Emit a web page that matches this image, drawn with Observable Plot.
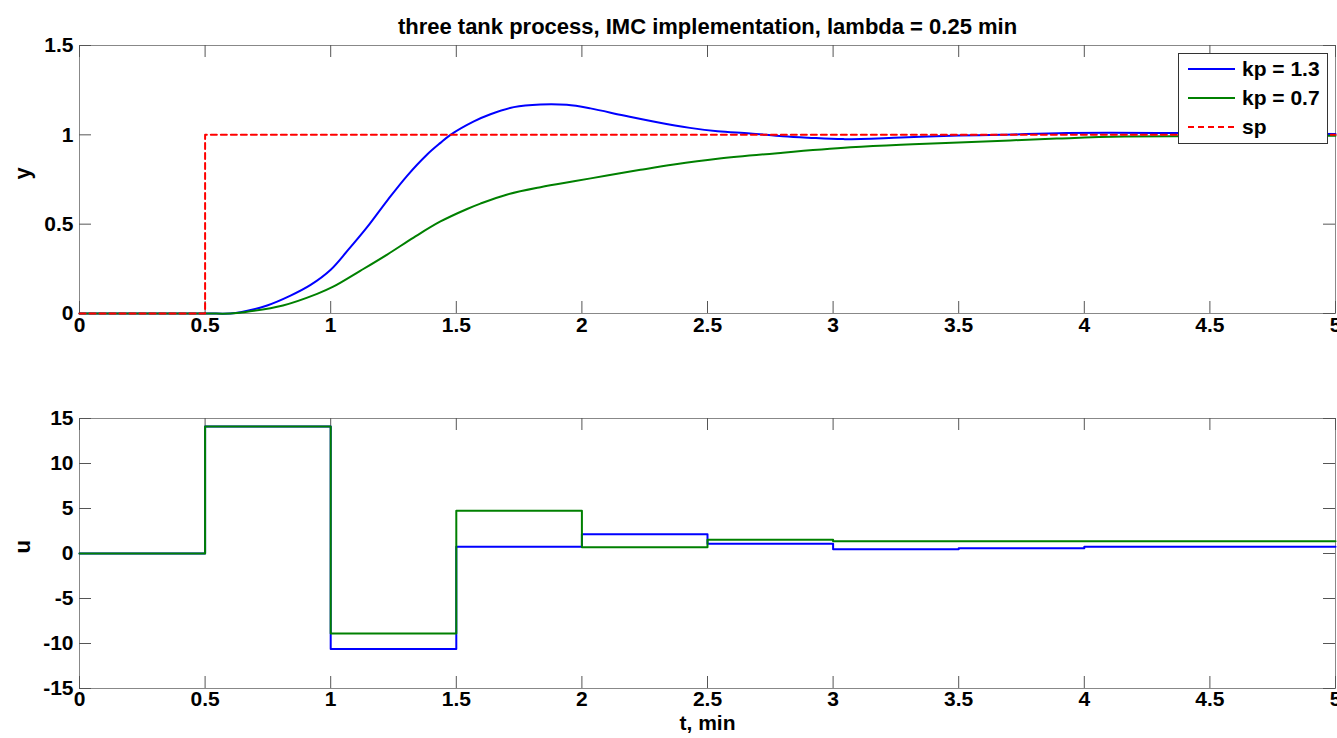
<!DOCTYPE html>
<html><head><meta charset="utf-8">
<script src="https://cdn.jsdelivr.net/npm/d3@7"></script>
<script src="https://cdn.jsdelivr.net/npm/@observablehq/plot@0.6"></script>
<style>
html,body{margin:0;padding:0;background:#fff;overflow:hidden;}
#wrap{position:relative;width:1337px;height:738px;overflow:hidden;}
#wrap > svg{display:block;overflow:hidden;}
#legend{position:absolute;left:1178px;top:53px;width:148px;height:89px;border:1px solid #333;background:#fff;}
</style></head><body><div id="wrap"></div>
<script>
const title = "three tank process, IMC implementation, lambda = 0.25 min";
const xLabel = "t, min";
const yLabelTop = "y";
const yLabelBottom = "u";
const xTicks = [0, 0.5, 1, 1.5, 2, 2.5, 3, 3.5, 4, 4.5, 5];
const yTicksTop = [0, 0.5, 1, 1.5];
const yTicksBottom = [-15, -10, -5, 0, 5, 10, 15];
const seriesNames = ["kp = 1.3", "kp = 0.7", "sp"];
const seriesColors = ["#0000ff", "#008000", "#ff0000"];

// y response, kp = 1.3
const tBlue = [0, 0.5, 0.6, 0.641, 0.747, 0.84, 0.92, 1.0, 1.066, 1.145, 1.225, 1.305, 1.384, 1.437, 1.477, 1.57, 1.636, 1.729, 1.835, 1.94, 2.034, 2.167, 2.30, 2.43, 2.54, 2.67, 2.80, 2.9, 3.04, 3.27, 3.5, 3.67, 3.93, 4.4, 5.0];
const yBlue = [0, 0, 0, 0.007, 0.045, 0.10, 0.16, 0.245, 0.35, 0.483, 0.632, 0.772, 0.89, 0.955, 1.0, 1.075, 1.115, 1.155, 1.17, 1.168, 1.148, 1.108, 1.07, 1.039, 1.02, 1.008, 0.992, 0.984, 0.976, 0.985, 0.996, 1.0, 1.01, 1.01, 1.005];
// y response, kp = 0.7
const tGreen = [0, 0.5, 0.6, 0.655, 0.81, 0.946, 1.01, 1.119, 1.225, 1.33, 1.437, 1.543, 1.596, 1.70, 1.835, 1.968, 2.10, 2.233, 2.366, 2.54, 2.80, 3.07, 3.27, 3.5, 3.89, 4.16, 5.0];
const yGreen = [0, 0, 0, 0.007, 0.045, 0.11, 0.15, 0.24, 0.33, 0.425, 0.515, 0.585, 0.615, 0.665, 0.707, 0.74, 0.772, 0.804, 0.834, 0.866, 0.90, 0.93, 0.945, 0.957, 0.979, 0.99, 0.995];
// setpoint
const tSp = [0, 0.5, 5];
const ySp = [0, 1, 1];
// controller output (zero-order hold)
const tU = [0, 0.5, 1, 1.5, 2, 2.5, 3, 3.5, 4, 4.5, 5];
const uBlue = [0, 14.1, -10.6, 0.75, 2.15, 1.07, 0.48, 0.59, 0.74, 0.74, 0.74];
const uGreen = [0, 14.1, -8.9, 4.75, 0.7, 1.52, 1.37, 1.37, 1.37, 1.37, 1.37];

const font = "'Liberation Sans', Arial, Helvetica, sans-serif";
const W = 1337;
const frameColor = "#888";
const tickColor = "#555";

function zip(t, v) { return t.map((x, i) => ({t: x, v: v[i]})); }

function ticksMarks(xDom, yDom, yT, plotW, plotH) {
  const Lx = (xDom[1] - xDom[0]) * 12 / plotW;
  const Ly = (yDom[1] - yDom[0]) * 12 / plotH;
  return [
    Plot.ruleX(xTicks, {x: d => d, y1: yDom[0], y2: yDom[0] + Ly, stroke: tickColor}),
    Plot.ruleX(xTicks, {x: d => d, y1: yDom[1], y2: yDom[1] - Ly, stroke: tickColor}),
    Plot.ruleY(yT, {y: d => d, x1: xDom[0], x2: xDom[0] + Lx, stroke: tickColor}),
    Plot.ruleY(yT, {y: d => d, x1: xDom[1], x2: xDom[1] - Lx, stroke: tickColor})
  ];
}

const style = {fontFamily: font, fontSize: "21px", fontWeight: "bold", color: "black", background: "white", overflow: "hidden"};

const topPlot = Plot.plot({
  width: W, height: 365,
  marginLeft: 79, marginRight: 2, marginTop: 45, marginBottom: 52,
  style,
  x: {domain: [0, 5]},
  y: {domain: [0, 1.5]},
  marks: [
    Plot.frame({stroke: frameColor}),
    ...ticksMarks([0, 5], [0, 1.5], yTicksTop, 1256, 268),
    Plot.axisX({ticks: xTicks, tickSize: 0, tickPadding: 4, tickFormat: d => String(d), label: null, fontSize: 21}),
    Plot.axisY({ticks: yTicksTop, tickSize: 0, tickPadding: 6, tickFormat: d => String(d), label: null, fontSize: 21}),
    Plot.line(zip(tBlue, yBlue), {x: "t", y: "v", stroke: seriesColors[0], strokeWidth: 2, curve: "catmull-rom"}),
    Plot.line(zip(tGreen, yGreen), {x: "t", y: "v", stroke: seriesColors[1], strokeWidth: 2, curve: "catmull-rom"}),
    Plot.line(zip(tSp, ySp), {x: "t", y: "v", stroke: seriesColors[2], strokeWidth: 2, strokeDasharray: "6,4", curve: "step-after"}),
    Plot.text([title], {frameAnchor: "top", dy: -27, fontSize: 22, fontWeight: "bold"}),
    Plot.text([yLabelTop], {frameAnchor: "left", dx: -57, rotate: -90, fontSize: 22, fontWeight: "bold"})
  ]
});

const bottomPlot = Plot.plot({
  width: W, height: 373,
  marginLeft: 79, marginRight: 2, marginTop: 53, marginBottom: 50,
  style,
  x: {domain: [0, 5]},
  y: {domain: [-15, 15]},
  marks: [
    Plot.frame({stroke: frameColor}),
    ...ticksMarks([0, 5], [-15, 15], yTicksBottom, 1256, 270),
    Plot.axisX({ticks: xTicks, tickSize: 0, tickPadding: 3, tickFormat: d => String(d), label: null, fontSize: 21}),
    Plot.axisY({ticks: yTicksBottom, tickSize: 0, tickPadding: 6, tickFormat: d => String(d), label: null, fontSize: 21}),
    Plot.line(zip(tU, uBlue), {x: "t", y: "v", stroke: seriesColors[0], strokeWidth: 2, curve: "step-after"}),
    Plot.line(zip(tU, uGreen), {x: "t", y: "v", stroke: seriesColors[1], strokeWidth: 2, curve: "step-after"}),
    Plot.text([xLabel], {frameAnchor: "bottom", dy: 41, fontSize: 21, fontWeight: "bold"}),
    Plot.text([yLabelBottom], {frameAnchor: "left", dx: -57, rotate: -90, fontSize: 22, fontWeight: "bold"})
  ]
});

const wrap = document.getElementById("wrap");
wrap.appendChild(topPlot);
wrap.appendChild(bottomPlot);

// legend
const leg = document.createElement("div");
leg.id = "legend";
const ns = "http://www.w3.org/2000/svg";
const ls = document.createElementNS(ns, "svg");
ls.setAttribute("width", 148); ls.setAttribute("height", 89);
seriesNames.forEach((name, i) => {
  const cy = 15 + i * 29;
  const line = document.createElementNS(ns, "line");
  line.setAttribute("x1", 9); line.setAttribute("x2", 56);
  line.setAttribute("y1", cy); line.setAttribute("y2", cy);
  line.setAttribute("stroke", seriesColors[i]); line.setAttribute("stroke-width", 2);
  if (name === "sp") line.setAttribute("stroke-dasharray", "6,4");
  ls.appendChild(line);
  const tx = document.createElementNS(ns, "text");
  tx.setAttribute("x", 63); tx.setAttribute("y", cy);
  tx.setAttribute("dy", "0.35em");
  tx.setAttribute("font-family", font); tx.setAttribute("font-size", 21); tx.setAttribute("font-weight", "bold");
  tx.textContent = name;
  ls.appendChild(tx);
});
leg.appendChild(ls);
wrap.appendChild(leg);
</script>
</body></html>
